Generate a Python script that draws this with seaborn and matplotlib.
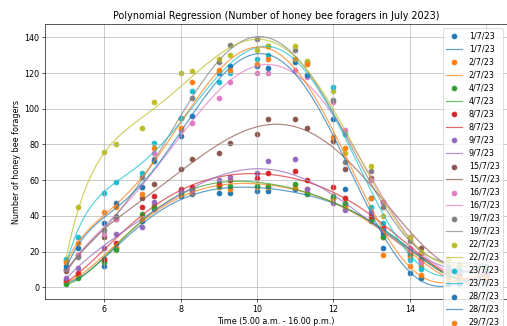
import matplotlib
matplotlib.use("Agg")
import matplotlib.pyplot as plt
import seaborn as sns

# Hora de muestreo (5.00 a.m. - 16.00 p.m., .3 = media hora)
times = [5.0, 5.3, 6.0, 6.3, 7.0, 7.3, 8.0, 8.3, 9.0, 9.3, 10.0, 10.3,
         11.0, 11.3, 12.0, 12.3, 13.0, 13.3, 14.0, 14.3, 15.0, 15.3, 16.0]

dates = ["1/7/23", "2/7/23", "4/7/23", "8/7/23", "9/7/23", "15/7/23",
         "16/7/23", "19/7/23", "22/7/23", "23/7/23", "28/7/23", "29/7/23"]

v_0107 = [3, 6, 12, 22, 37, 44, 51, 52, 53, 53, 54, 54, 55, 53, 50, 46, 38, 30, 18, 14, 9, 8, 6]
v_0207 = [3, 7, 15, 22, 38, 46, 52, 53, 56, 55, 56, 56, 56, 55, 50, 45, 38, 28, 17, 12, 8, 6, 5]
v_0407 = [2, 5, 14, 21, 41, 45, 53, 55, 57, 57, 57, 57, 58, 52, 51, 47, 37, 28, 19, 15, 9, 7, 6]
v_0807 = [4, 8, 16, 25, 45, 51, 55, 56, 58, 60, 61, 64, 65, 60, 56, 50, 40, 33, 20, 16, 10, 8, 7]
v_0907 = [5, 11, 22, 30, 34, 48, 54, 54, 60, 62, 64, 71, 72, 55, 47, 43, 42, 32, 21, 16, 11, 9, 8]
v_1507 = [9, 18, 28, 38, 50, 58, 66, 72, 75, 81, 86, 94, 94, 89, 82, 66, 61, 48, 28, 22, 15, 12, 10]
v_1607 = [10, 18, 30, 38, 56, 75, 88, 92, 106, 115, 120, 120, 122, 118, 104, 88, 60, 48, 22, 14, 16, 12, 12]
v_1907 = [10, 17, 32, 40, 62, 72, 95, 106, 126, 136, 139, 135, 133, 126, 105, 70, 65, 45, 26, 19, 15, 13, 12]
v_2207 = [15, 45, 76, 80, 89, 104, 120, 121, 128, 130, 133, 135, 135, 127, 110, 75, 68, 40, 28, 20, 15, 12, 10]
v_2307 = [16, 28, 53, 59, 64, 81, 95, 110, 115, 120, 128, 130, 128, 125, 112, 86, 45, 36, 15, 10, 12, 10, 10]
v_2807 = [12, 22, 36, 47, 56, 71, 85, 96, 120, 124, 124, 123, 126, 119, 94, 55, 50, 22, 8, 5, 2, 2, 3]
v_2907 = [14, 25, 42, 45, 52, 78, 89, 115, 122, 122, 125, 128, 128, 125, 84, 78, 50, 18, 12, 7, 5, 5, 5]

series = [v_0107, v_0207, v_0407, v_0807, v_0907, v_1507,
          v_1607, v_1907, v_2207, v_2307, v_2807, v_2907]

fig = plt.figure(figsize=(507 / 58, 326 / 58), dpi=58)
ax = fig.add_axes([0.089, 0.083, 0.911, 0.843])

colors = sns.color_palette("tab10")
for i, (d, vals) in enumerate(zip(dates, series)):
    # Regresión polinómica por día
    sns.regplot(x=times, y=vals, order=6, ci=None, ax=ax,
                color=colors[i % 10], label=d,
                scatter_kws={"alpha": 1, "s": 36},
                line_kws={"label": d, "alpha": 0.7, "linewidth": 1.5})

ax.set_title("Polynomial Regression (Number of honey bee foragers in July 2023)")
ax.set_xlabel("Time (5.00 a.m. - 16.00 p.m.)")
ax.set_ylabel("Number of honey bee foragers")
ax.grid(True)
ax.legend(loc="upper right")

fig.savefig("out.png", dpi=58)
